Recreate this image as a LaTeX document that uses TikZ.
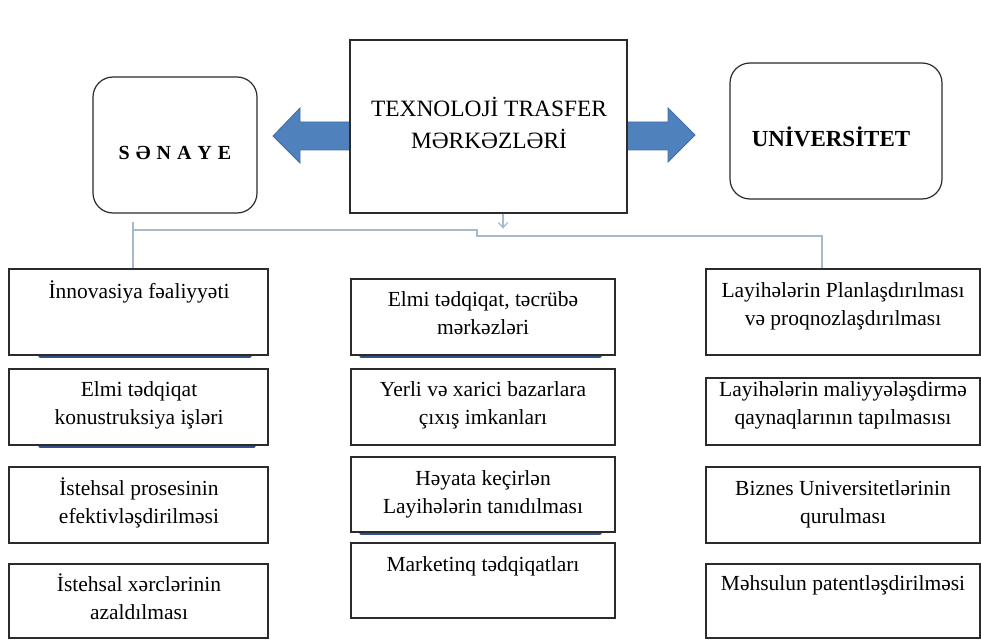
\documentclass[tikz,border=0pt]{standalone}
\usepackage{fontspec}
\setmainfont{Liberation Serif}
\usetikzlibrary{arrows.meta}
\definecolor{boxline}{HTML}{2B2B2B}
\definecolor{connc}{HTML}{A9B9CC}
\definecolor{shadc}{HTML}{2F5388}
\definecolor{arrfill}{HTML}{4F81BD}
\definecolor{arrdraw}{HTML}{3F6EA6}
\begin{document}
\begin{tikzpicture}[x=1pt,y=-1pt,
  box/.style={draw=boxline, line width=1.2pt, fill=white, inner sep=0pt},
  rbox/.style={box, rounded corners=20pt},
  txt/.style={font=\fontsize{21.5}{28}\selectfont, align=center, anchor=base, inner sep=0pt, text=black},
  conn/.style={draw=connc, line width=1.3pt},
  shad/.style={draw=shadc, line width=3.5pt, line cap=round},
  barrow/.style={fill=arrfill, draw=arrdraw, line width=0.8pt, line join=miter}]
\useasboundingbox (0,0) rectangle (981,639);

% block arrows
\draw[barrow] (352,122) -- (300,122) -- (300,108) -- (273,136) -- (300,163) -- (300,150) -- (352,150) -- cycle;
\draw[barrow] (625,122) -- (668,122) -- (668,108) -- (695,135) -- (668,162) -- (668,150) -- (625,150) -- cycle;

% top boxes
\node[rbox, minimum width=164pt, minimum height=136pt] (sen) at (175,145) {};
\node[box, minimum width=277pt, minimum height=173pt] (tt) at (488.5,126.5) {};
\node[rbox, minimum width=212pt, minimum height=136pt] (uni) at (836,131) {};

% (anchor=base of a multi-line node is the baseline of its last line)
\node[txt, font=\fontsize{23.4}{32}\selectfont] (ttt) at (489,149) {TEXNOLOJİ TRASFER\\MƏRKƏZLƏRİ};
\node[anchor=base, inner sep=0pt, font=\bfseries\fontsize{20}{24}\selectfont] (sent) at (175,160) {S\kern6pt Ə\kern6pt N\kern6pt A\kern6pt Y\kern6pt E};
\node[anchor=base, inner sep=0pt, font=\bfseries\fontsize{23}{26}\selectfont] (unit) at (831,147) {UNİVERSİTET};

% shadows
\draw[shad] (40,356.5) -- (250,356.5);
\draw[shad] (40,446.5) -- (254,446.5);
\draw[shad] (361,356.5) -- (600,356.5);
\draw[shad] (361,533.5) -- (600,533.5);

% left column
\node[box, minimum width=259pt, minimum height=86pt] (l1) at (138.5,312) {};
\node[box, minimum width=259pt, minimum height=76pt] (l2) at (138.5,407) {};
\node[box, minimum width=259pt, minimum height=76pt] (l3) at (138.5,505) {};
\node[box, minimum width=259pt, minimum height=74pt] (l4) at (138.5,601) {};
% middle column
\node[box, minimum width=264pt, minimum height=76pt] (m1) at (483,317) {};
\node[box, minimum width=264pt, minimum height=76pt] (m2) at (483,407) {};
\node[box, minimum width=264pt, minimum height=75pt] (m3) at (483,494.5) {};
\node[box, minimum width=264pt, minimum height=75pt] (m4) at (483,580.5) {};
% right column
\node[box, minimum width=274pt, minimum height=86pt] (r1) at (843,312) {};
\node[box, minimum width=274pt, minimum height=67pt] (r2) at (843,411.5) {};
\node[box, minimum width=274pt, minimum height=76pt] (r3) at (843,505) {};
\node[box, minimum width=274pt, minimum height=74pt] (r4) at (843,601) {};

% texts
\node[txt] (l1t) at (139,298) {İnnovasiya fəaliyyəti};
\node[txt] (l2t) at (139,424) {Elmi tədqiqat\\konustruksiya işləri};
\node[txt] (l3t) at (139,523) {İstehsal prosesinin\\efektivləşdirilməsi};
\node[txt] (l4t) at (139,619) {İstehsal xərclərinin\\azaldılması};

\node[txt] (m1t) at (483,334) {Elmi tədqiqat, təcrübə\\mərkəzləri};
\node[txt] (m2t) at (483,424) {Yerli və xarici bazarlara\\çıxış imkanları};
\node[txt] (m3t) at (483,513) {Həyata keçirlən\\Layihələrin tanıdılması};
\node[txt] (m4t) at (483,571) {Marketinq tədqiqatları};

\node[txt] (r1t) at (843,325) {Layihələrin Planlaşdırılması\\və proqnozlaşdırılması};
\node[txt] (r2t) at (843,424) {Layihələrin maliyyələşdirmə\\qaynaqlarının tapılmasısı};
\node[txt] (r3t) at (843,523) {Biznes Universitetlərinin\\qurulması};
\node[txt] (r4t) at (843,590) {Məhsulun patentləşdirilməsi};

% connectors
\coordinate (ax) at (503,0);
\coordinate (lj) at (133,222);
\coordinate (b1) at (133,230);
\coordinate (b2) at (477,230);
\coordinate (b3) at (477,236);
\coordinate (rj) at (822,236);
\draw[conn, -{Straight Barb[length=5pt,width=9pt]}] (tt.south -| ax) -- ++(0,15);
\draw[conn] (lj) -- (l1.north -| lj);
\draw[conn] (b1) -- (b2) -- (b3) -- (rj) -- (r1.north -| rj);
\end{tikzpicture}
\end{document}
